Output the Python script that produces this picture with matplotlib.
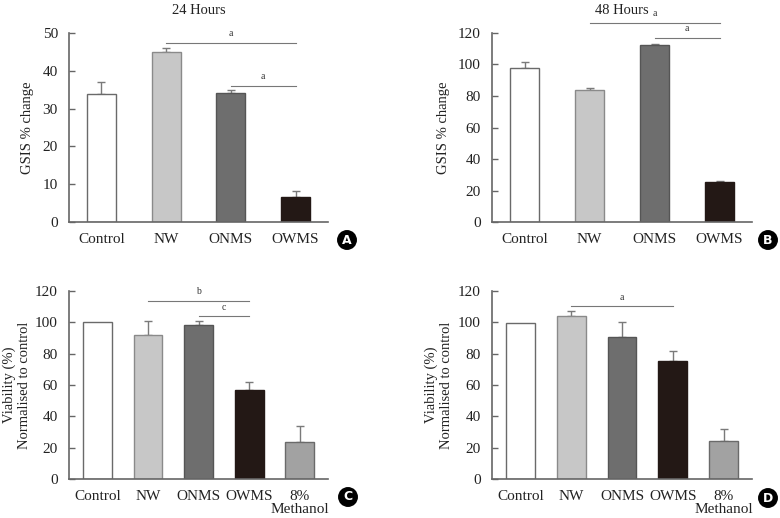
import numpy as np
import matplotlib
matplotlib.use('Agg')
from matplotlib import pyplot as plt

plt.rcParams['font.family'] = ['Liberation Serif', 'DejaVu Serif']

# 24 hours GSIS
cats_gsis = ['Control', 'NW', 'ONMS', 'OWMS']
gsis_24h = [33.8, 44.9, 34.0, 6.5]
gsis_24h_err = [3.2, 1.0, 0.8, 1.7]
# 48 hours GSIS
gsis_48h = [97.6, 83.6, 112.4, 25.6]
gsis_48h_err = [3.8, 1.3, 0.8, 0.6]
# viability
cats_via = ['Control', 'NW', 'ONMS', 'OWMS', '8%\nMethanol']
via_c = [100.0, 92.1, 98.3, 57.0, 23.4]
via_c_err = [0.0, 8.5, 2.3, 4.7, 10.2]
via_d = [99.3, 103.8, 90.8, 75.1, 24.5]
via_d_err = [0.0, 3.2, 9.2, 6.6, 7.4]

colors = ['#ffffff', '#c7c7c7', '#6e6e6e', '#231815', '#a2a2a2']
edges = ['#6a6a6a', '#8a8a8a', '#555555', '#231815', '#6a6a6a']

# significance bars: (from index, to index, height, letter)
sig_a = [(1, 3, 47.4, 'a'), (2, 3, 36.0, 'a')]
sig_b = [(1, 3, 126.3, 'a'), (2, 3, 116.8, 'a')]
sig_c = [(1, 3, 113.4, 'b'), (2, 3, 103.8, 'c')]
sig_d = [(1, 3, 110.2, 'a')]

W, H = 780, 518
fig = plt.figure(figsize=(W / 100, H / 100), dpi=100)


def panel(rect, cats, vals, errs, ylim, yticks, ylabel, sigs, width, xlim,
          title=None, labx=-0.17, letter='A', letpos=(0, 0)):
    ax = fig.add_axes(rect)
    x = np.arange(len(cats))
    ax.bar(x, vals, width=width, color=colors[:len(cats)],
           edgecolor=edges[:len(cats)], linewidth=1.0, zorder=2)
    for xi, v, e in zip(x, vals, errs):
        if e > 0:
            ax.errorbar(xi, v, yerr=[[0], [e]], fmt='none', ecolor='#7a7a7a',
                        elinewidth=1.0, capsize=3, capthick=1.0, zorder=1)
    for i0, i1, h, lab in sigs:
        ax.plot([i0, i1], [h, h], color='#777777', lw=0.8, clip_on=False)
        ax.annotate(lab, ((i0 + i1) / 2, h), xytext=(0, 3.5),
                    textcoords='offset points', ha='center', va='bottom',
                    fontsize=7, color='#333333', annotation_clip=False)
    ax.set_xlim(*xlim)
    ax.set_ylim(*ylim)
    ax.set_yticks(yticks)
    ax.set_xticks(x)
    ax.set_xticklabels(cats, linespacing=1.0)
    for s in ['top', 'right']:
        ax.spines[s].set_visible(False)
    for s in ['left', 'bottom']:
        ax.spines[s].set_color('#666666')
        ax.spines[s].set_linewidth(1.2)
    ax.tick_params(axis='y', direction='in', length=4, width=1.0,
                   color='#666666', labelsize=11, pad=8, labelcolor='#222222')
    ax.tick_params(axis='x', length=0, labelsize=11, pad=8, labelcolor='#222222')
    ax.set_ylabel(ylabel, fontsize=10.5, va='center', ha='center',
                  color='#222222', linespacing=1.2)
    ax.yaxis.set_label_coords(labx, 0.5)
    if title:
        ax.set_title(title, fontsize=10.5, color='#222222', pad=14)
    fig.text(letpos[0] / W, 1 - letpos[1] / H, letter, color='white',
             fontsize=9, fontweight='bold', family='DejaVu Sans',
             ha='center', va='center',
             bbox=dict(boxstyle='circle,pad=0.22', fc='black', ec='black'))
    return ax


panel([0.0885, 0.5714, 0.332, 0.3649], cats_gsis, gsis_24h, gsis_24h_err,
      (0, 50), range(0, 51, 10), 'GSIS % change', sig_a, 0.45, (-0.5, 3.5),
      title='24 Hours', labx=-0.162, letter='A', letpos=(347, 240))
panel([0.6308, 0.5714, 0.3333, 0.3649], cats_gsis, gsis_48h, gsis_48h_err,
      (0, 120), range(0, 121, 20), 'GSIS % change', sig_b, 0.45, (-0.5, 3.5),
      title='48 Hours', labx=-0.188, letter='B', letpos=(768, 240))
panel([0.0885, 0.0753, 0.332, 0.3629], cats_via, via_c, via_c_err,
      (0, 120), range(0, 121, 20), 'Viability (%)\nNormalised to control',
      sig_c, 0.57, (-0.56, 4.56), labx=-0.203, letter='C', letpos=(348, 497))
panel([0.6308, 0.0753, 0.3333, 0.3629], cats_via, via_d, via_d_err,
      (0, 120), range(0, 121, 20), 'Viability (%)\nNormalised to control',
      sig_d, 0.57, (-0.56, 4.56), labx=-0.206, letter='D', letpos=(768, 498))

fig.savefig('out.png', dpi=100)
